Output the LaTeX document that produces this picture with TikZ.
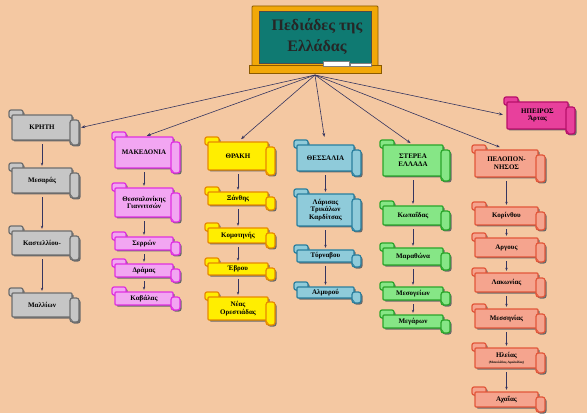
\documentclass[tikz,border=0pt]{standalone}
\usepackage{fontspec}
\setmainfont{Liberation Serif}
\usetikzlibrary{arrows.meta}
\definecolor{peach}{HTML}{F4C8A2}
\definecolor{shadowc}{HTML}{6A6A6A}
\definecolor{linec}{HTML}{35355F}
\definecolor{goldc}{HTML}{F2A808}
\definecolor{goldd}{HTML}{8A5A00}
\definecolor{boardc}{HTML}{0F7A72}
\definecolor{grayf}{HTML}{C6C6C6}\definecolor{grayd}{HTML}{6E6E6E}
\definecolor{magf}{HTML}{F2A6F2}\definecolor{magd}{HTML}{E030E0}
\definecolor{yelf}{HTML}{FFEE00}\definecolor{yeld}{HTML}{E88A00}
\definecolor{teaf}{HTML}{8FCBDA}\definecolor{tead}{HTML}{2A7F9E}
\definecolor{gref}{HTML}{86E686}\definecolor{gred}{HTML}{2AA52A}
\definecolor{salf}{HTML}{F5A48E}\definecolor{sald}{HTML}{E2573A}
\definecolor{epif}{HTML}{E8409C}\definecolor{epid}{HTML}{B8106A}
\tikzset{
  lbl/.style={font=\bfseries\fontsize{7}{7.8}\selectfont, align=center, inner sep=0pt, text=black},
  conn/.style={draw=linec, line width=0.6pt, -{Stealth[length=4pt,width=3pt]}},
  varr/.style={draw=linec, line width=0.6pt, -{Stealth[length=3pt,width=2.4pt]}, shorten <=4pt, shorten >=2pt},
}
\newcommand\scrollpieces[5]{%
  \path[#5,rounded corners=2pt] (#1-3,#2-5) rectangle (#1+11,#2+3);
  \path[#5,rounded corners=1pt] (#1,#2) rectangle (#3,#4);
  \path[#5,rounded corners=2.5pt] (#3-2,#2+5) rectangle (#3+7,#4+5);
}
\newcommand\scrollbox[8]{%
  \begin{scope}[shift={(1.5,1.5)}]
    \scrollpieces{#2}{#3}{#4}{#5}{fill=shadowc}
  \end{scope}
  \scrollpieces{#2}{#3}{#4}{#5}{fill=#6,draw=#7,line width=1.2pt}
  \draw[#7,line width=0.9pt] (#4-2,#5+1) .. controls (#4-1,#5+3) .. (#4+1,#5+5);
  \node[lbl, minimum width={(#4-#2)*1pt}, minimum height={(#5-#3)*1pt}] (#1) at ({(#2+#4)/2},{(#3+#5)/2}) {#8};
}
\begin{document}
\begin{tikzpicture}[x=1pt,y=-1pt]
\useasboundingbox (0,0) rectangle (587,417);
\fill[peach] (0,0) rectangle (587,417);
\fill[white] (0,413) rectangle (587,417);
% chalkboard
\fill[goldc,draw=goldd,line width=0.8pt,rounded corners=1pt] (252,6) rectangle (378,67);
\fill[boardc,draw=black!70,line width=0.8pt] (259,11) rectangle (371,63);
\fill[goldc,draw=goldd,line width=0.8pt] (249,65) rectangle (381,73);
\fill[white,draw=gray] (323,61) rectangle (349,66);
\fill[white,draw=gray] (350,63) rectangle (371,66);
\node[font=\bfseries\fontsize{16}{21}\selectfont, text=black!85, align=center] (title) at (317,37) {Πεδιάδες της\\Ελλάδας};
\coordinate (hub) at (315,75);
% Crete
\scrollbox{kriti}{12}{115}{72}{140}{grayf}{grayd}{ΚΡΗΤΗ}
\scrollbox{mesara}{12}{168}{72}{193}{grayf}{grayd}{Μεσαράς}
\scrollbox{kastel}{12}{231}{72}{255}{grayf}{grayd}{Καστελλίου-}
\scrollbox{mallia}{12}{293}{72}{317}{grayf}{grayd}{Μαλλίων}
% Macedonia
\scrollbox{maked}{115}{137}{173}{168}{magf}{magd}{ΜΑΚΕΔΟΝΙΑ}
\scrollbox{thessal}{115}{188}{173}{217}{magf}{magd}{Θεσσαλονίκης\\Γιαννιτσών}
\scrollbox{serres}{115}{237}{173}{250}{magf}{magd}{Σερρών}
\scrollbox{drama}{115}{264}{173}{277}{magf}{magd}{Δράμας}
\scrollbox{kavala}{115}{292}{173}{305}{magf}{magd}{Καβάλας}
% Thrace
\scrollbox{thraki}{208}{142}{268}{170}{yelf}{yeld}{ΘΡΑΚΗ}
\scrollbox{xanthi}{208}{192}{268}{205}{yelf}{yeld}{Ξάνθης}
\scrollbox{komot}{208}{228}{268}{243}{yelf}{yeld}{Κομοτηνής}
\scrollbox{evros}{208}{263}{268}{275}{yelf}{yeld}{Έβρου}
\scrollbox{orest}{208}{297}{268}{320}{yelf}{yeld}{Νέας\\Ορεστιάδας}
% Thessaly
\scrollbox{thessalia}{297}{145}{354}{171}{teaf}{tead}{ΘΕΣΣΑΛΙΑ}
\scrollbox{larisa}{297}{194}{354}{226}{teaf}{tead}{\fontsize{7}{6.8}\selectfont Λάρισας\\Τρικάλων\\Καρδίτσας}
\scrollbox{tyrnav}{297}{250}{354}{262}{teaf}{tead}{Τύρναβου}
\scrollbox{almyr}{297}{287}{354}{298}{teaf}{tead}{Αλμυρού}
% Sterea
\scrollbox{sterea}{383}{145}{443}{176}{gref}{gred}{ΣΤΕΡΕΑ\\ΕΛΛΑΔΑ}
\scrollbox{kopaida}{383}{206}{443}{225}{gref}{gred}{Κωπαΐδας}
\scrollbox{marath}{383}{248}{443}{265}{gref}{gred}{Μαραθώνα}
\scrollbox{mesog}{383}{287}{443}{300}{gref}{gred}{Μεσογείων}
\scrollbox{megara}{383}{315}{443}{328}{gref}{gred}{Μεγάρων}
% Epirus
\scrollbox{ipeiros}{507}{102}{568}{129}{epif}{epid}{ΗΠΕΙΡΟΣ\\Άρτας}
% Peloponnese
\scrollbox{pelop}{475}{150}{538}{177}{salf}{sald}{ΠΕΛΟΠΟΝ-\\ΝΗΣΟΣ}
\scrollbox{korinth}{475}{207}{538}{225}{salf}{sald}{Κορίνθου}
\scrollbox{argos}{475}{238}{538}{257}{salf}{sald}{Αργους}
\scrollbox{lakon}{475}{273}{538}{292}{salf}{sald}{Λακωνίας}
\scrollbox{messin}{475}{309}{538}{328}{salf}{sald}{Μεσσηνίας}
\scrollbox{ilia}{475}{348}{538}{368}{salf}{sald}{Ηλείας\\[-1.5pt]{\fontsize{3.3}{3.5}\selectfont (Μανολάδας-Αμαλιάδας)}}
\scrollbox{achaia}{475}{392}{538}{407}{salf}{sald}{Αχαΐας}
% hub connectors
\draw[conn] (hub) -- ([xshift=9pt]kriti.east);
\draw[conn,shorten >=3pt] (hub) -- (maked.north);
\draw[conn,shorten >=4pt] (hub) -- (thraki.north);
\draw[conn,shorten >=8pt] (hub) -- (thessalia.north);
\draw[conn,shorten >=3pt] (hub) -- (sterea.north);
\draw[conn,shorten >=4pt] (hub) -- (ipeiros.west);
\draw[conn,shorten >=7pt] (hub) -- (pelop.north);
% column arrows
\draw[varr] (kriti) -- (mesara);
\draw[varr] (mesara) -- (kastel);
\draw[varr] (kastel) -- (mallia);
\draw[varr] (maked) -- (thessal);
\draw[varr] (thessal) -- (serres);
\draw[varr] (serres) -- (drama);
\draw[varr] (drama) -- (kavala);
\draw[varr] (thraki) -- (xanthi);
\draw[varr] (xanthi) -- (komot);
\draw[varr] (komot) -- (evros);
\draw[varr] (evros) -- (orest);
\draw[varr] (thessalia) -- (larisa);
\draw[varr] (larisa) -- (tyrnav);
\draw[varr] (tyrnav) -- (almyr);
\draw[varr] (sterea) -- (kopaida);
\draw[varr] (kopaida) -- (marath);
\draw[varr] (marath) -- (mesog);
\draw[varr] (mesog) -- (megara);
\draw[varr] (pelop) -- (korinth);
\draw[varr] (korinth) -- (argos);
\draw[varr] (argos) -- (lakon);
\draw[varr] (lakon) -- (messin);
\draw[varr] (messin) -- (ilia);
\draw[varr] (ilia) -- (achaia);
\end{tikzpicture}
\end{document}
